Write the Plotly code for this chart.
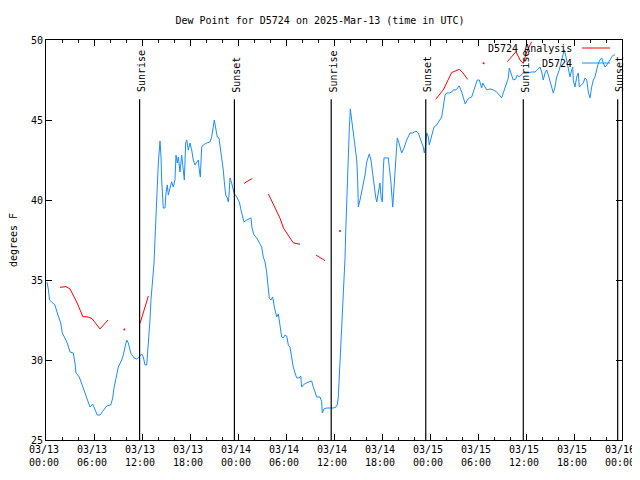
import plotly.graph_objects as go

# ---- data (hours since 2025-03-13 00:00 UTC) ----
obs_hours = [0.12,0.31,0.44,0.75,1.12,1.41,1.84,2.04,2.25,2.66,3.0,3.41,3.62,3.75,4.16,4.66,5.09,5.5,5.84,6.12,
 6.41,6.75,7.16,7.59,8.09,8.34,8.5,8.75,9.04,9.46,9.66,9.88,10.09,10.29,10.59,11.0,11.34,11.66,11.96,12.16,
 12.38,12.59,12.71,12.91,13.0,13.12,13.34,13.5,13.62,13.75,13.91,14.04,14.25,14.38,14.46,14.59,14.66,14.88,15.0,15.16,
 15.29,15.5,15.71,15.91,16.12,16.25,16.41,16.54,16.75,16.96,17.16,17.29,17.46,17.59,17.79,18.0,18.21,18.41,18.62,18.84,
 19.04,19.16,19.29,19.46,19.66,20.09,20.5,20.71,20.91,21.04,21.21,21.41,21.62,21.75,21.96,22.16,22.29,22.46,22.66,22.79,
 22.88,23.0,23.21,23.5,23.84,24.16,24.46,24.75,25.09,25.5,25.62,25.75,26.0,26.34,26.66,26.96,27.16,27.38,27.59,27.71,
 27.91,28.12,28.34,28.54,28.84,29.04,29.25,29.46,29.66,29.88,30.09,30.29,30.5,30.71,30.91,31.12,31.34,31.66,31.84,31.96,
 32.16,32.5,33.0,33.21,33.41,33.62,33.84,34.25,34.46,34.54,34.75,35.09,35.91,36.25,36.41,36.54,36.66,36.84,36.96,37.09,
 37.25,37.38,37.46,37.59,37.66,37.79,37.91,38.04,38.21,38.41,38.62,38.84,38.96,39.04,39.25,39.46,39.66,39.88,40.09,40.41,
 40.62,40.84,41.0,41.21,41.34,41.54,41.75,41.88,42.04,42.16,42.25,42.5,42.79,42.91,43.09,43.34,43.5,43.66,43.75,43.91,
 44.12,44.46,44.75,45.09,45.5,45.84,46.25,46.54,46.75,46.96,47.16,47.29,47.46,47.59,47.79,47.91,48.21,48.5,48.84,49.25,
 49.46,49.66,49.88,50.09,50.41,50.71,50.91,51.25,51.66,51.96,52.16,52.41,52.66,52.91,53.21,53.41,53.62,53.91,54.16,54.34,
 54.46,54.59,54.88,55.09,55.5,55.91,56.34,56.66,56.96,57.16,57.38,57.59,57.79,57.91,58.09,58.25,58.41,58.71,58.91,59.16,
 59.46,59.66,60.0,60.29,60.71,61.12,61.41,61.75,61.96,62.16,62.38,62.59,62.79,63.0,63.21,63.41,63.62,63.84,64.16,64.46,
 64.66,64.79,65.0,65.16,65.29,65.5,65.71,65.84,65.91,66.12,66.34,66.54,66.66,66.96,67.16,67.38,67.59,67.79,68.0,68.21,
 68.41,68.62,68.84,69.04,69.25,69.46,69.66,69.88,70.09,70.29,70.5,70.71,70.91,71.12]
obs_dewpt = [34.88,34.38,33.75,33.63,33.44,32.94,32.31,31.69,31.44,31.06,30.5,30.44,29.81,29.19,28.94,28.25,27.69,27.06,27.25,26.88,
 26.56,26.56,26.88,27.13,27.19,27.63,28.25,28.94,29.56,30.0,30.31,30.81,31.25,31.06,30.44,30.13,30.06,30.19,30.38,30.19,
 29.69,29.69,30.44,31.69,32.5,33.75,35.0,36.06,37.5,39.19,40.44,42.31,43.69,42.69,41.25,40.44,39.5,39.5,40.44,40.94,
 40.31,40.75,41.13,40.81,41.25,42.81,42.31,42.69,41.75,42.81,41.88,41.25,43.56,43.75,43.13,43.56,43.13,42.5,42.19,42.38,
 42.5,41.88,41.44,43.31,43.44,43.56,43.63,43.94,44.56,45.0,44.5,43.94,43.88,43.44,42.5,41.88,41.13,40.31,40.13,39.88,
 40.31,41.38,41.06,40.44,40.19,39.88,39.19,38.63,38.75,38.88,38.88,38.25,37.81,37.63,37.38,37.06,36.44,36.13,35.44,34.81,
 33.88,33.75,33.94,33.31,32.69,32.88,32.19,31.44,31.38,31.56,31.5,30.94,30.81,30.13,29.56,29.19,28.88,28.88,29.0,28.31,
 28.44,28.56,28.63,28.69,28.31,28.0,27.69,27.69,27.38,26.69,26.94,27.0,27.0,27.06,27.19,27.69,28.88,30.19,31.75,33.31,
 34.81,36.38,37.94,39.81,41.88,43.13,44.38,45.69,45.0,44.38,43.56,42.5,41.25,39.56,40.0,40.5,41.06,41.56,42.38,42.88,
 42.5,41.56,41.06,40.19,39.88,40.44,41.06,40.19,39.88,41.88,42.63,42.63,42.63,42.06,41.25,39.56,40.63,41.88,42.69,43.88,
 43.56,42.94,43.25,43.75,44.19,44.19,44.31,44.19,43.88,43.56,43.31,42.94,43.44,44.19,43.94,43.44,43.94,44.56,44.69,45.0,
 45.19,45.81,46.56,46.69,46.69,46.75,46.88,46.88,47.13,46.75,46.44,46.0,46.25,46.38,46.44,46.75,47.19,47.5,47.5,47.19,
 47.0,47.31,47.06,46.88,46.94,46.88,46.75,46.56,46.38,46.69,47.0,47.38,47.63,48.25,47.94,47.63,47.5,47.56,47.81,47.69,
 47.81,47.94,47.94,47.94,48.0,48.0,48.13,48.31,48.0,47.5,47.94,48.13,47.81,47.5,47.06,46.69,47.06,47.69,48.13,48.75,
 49.19,49.38,48.94,48.56,48.13,47.69,48.13,48.31,47.5,47.06,47.69,47.94,47.06,47.19,47.31,47.63,47.5,46.75,46.38,47.06,
 47.5,47.69,48.25,48.56,48.75,48.88,48.56,48.31,48.44,48.56,48.75,48.94,49.06,49.06]

# analysis series: None separates gaps
ana_hours = [1.75,2.5,3.0,3.9,4.6,5.25,5.75,6.75,7.75,None,
             9.8,None,
             11.75,12.8,None,
             24.75,25.8,None,
             27.8,28.4,29.25,29.7,30.3,30.9,31.75,None,
             33.75,34.88,None,
             36.75,None,
             48.7,49.66,50.7,51.66,52.1,52.7,None,
             54.7,None,
             57.66,58.75,59.25,59.66,60.1,60.7]
ana_dewpt = [34.54,34.59,34.44,33.56,32.71,32.69,32.59,31.94,32.5,None,
             31.9,None,
             32.29,34.0,None,
             41.04,41.35,None,
             40.38,39.79,38.86,38.23,37.81,37.33,37.23,None,
             36.56,36.21,None,
             38.06,None,
             46.29,46.88,47.96,48.17,47.96,47.54,None,
             48.54,None,
             48.64,49.27,48.75,48.54,49.27,49.89]
single_pts_h = [9.8, 36.75, 54.7]
single_pts_v = [31.9, 38.06, 48.54]

sun_hours = [11.7, 23.55, 35.65, 47.47, 59.66, 71.46]
sun_labels = ["Sunrise", "Sunset", "Sunrise", "Sunset", "Sunrise", "Sunset"]

tick_hours = [0, 6, 12, 18, 24, 30, 36, 42, 48, 54, 60, 66, 72]
tick_text = ["03/13<br>00:00", "03/13<br>06:00", "03/13<br>12:00", "03/13<br>18:00",
             "03/14<br>00:00", "03/14<br>06:00", "03/14<br>12:00", "03/14<br>18:00",
             "03/15<br>00:00", "03/15<br>06:00", "03/15<br>12:00", "03/15<br>18:00",
             "03/16<br>00:00"]

FONT = "DejaVu Sans Mono"
FS = 10
BLUE = "#1a8cff"
RED = "#ff0000"

# page has an 8px body margin: lay out in page pixels, then offset
OFF = 8
W, H = 640 - OFF, 480 - OFF
L, R, T, B = 46 - OFF, 622 - OFF, 40 - OFF, 440 - OFF
def px(x):  # page pixel -> paper fraction
    return (x - OFF - L) / (R - L)
def py(y):
    return (B - (y - OFF)) / (B - T)

fig = go.Figure()
fig.add_trace(go.Scatter(x=ana_hours, y=ana_dewpt, mode="lines", connectgaps=False,
                         line=dict(color=RED, width=1), name="D5724 Analysis", showlegend=False))
fig.add_trace(go.Scatter(x=single_pts_h, y=single_pts_v, mode="markers",
                         marker=dict(color=RED, size=2), showlegend=False))
fig.add_trace(go.Scatter(x=obs_hours, y=obs_dewpt, mode="lines",
                         line=dict(color=BLUE, width=1), name="D5724", showlegend=False))

line_top = 46.3
for h, lab in zip(sun_hours, sun_labels):
    fig.add_shape(type="line", xref="x", yref="y", x0=h, x1=h, y0=25, y1=line_top,
                  line=dict(color="black", width=1.2))
    fig.add_annotation(x=h, y=46.6, xref="x", yref="y", text=lab, textangle=-90,
                       showarrow=False, xanchor="center", yanchor="bottom", xshift=2,
                       font=dict(family=FONT, size=FS, color="black"))

# legend (gnuplot style: text on left, sample on right)
fig.add_annotation(x=px(574), y=py(48), xref="paper", yref="paper", text="D5724 Analysis", showarrow=False,
                   xanchor="right", yanchor="middle", font=dict(family=FONT, size=FS, color="black"))
fig.add_annotation(x=px(574), y=py(63), xref="paper", yref="paper", text="D5724", showarrow=False,
                   xanchor="right", yanchor="middle", font=dict(family=FONT, size=FS, color="black"))
fig.add_shape(type="line", xref="paper", yref="paper", x0=px(582), x1=px(610), y0=py(48), y1=py(48),
              line=dict(color=RED, width=1))
fig.add_shape(type="line", xref="paper", yref="paper", x0=px(582), x1=px(610), y0=py(63), y1=py(63),
              line=dict(color=BLUE, width=1))

fig.update_layout(
    width=W, height=H,
    margin=dict(l=L, r=W - R, t=T, b=H - B, pad=0, autoexpand=False),
    paper_bgcolor="white", plot_bgcolor="white",
    title=dict(text="Dew Point for D5724 on 2025-Mar-13 (time in UTC)", x=px(320), xanchor="center",
               xref="paper", y=1 - (20 - OFF) / H, yanchor="middle",
               font=dict(family=FONT, size=FS, color="black")),
    font=dict(family=FONT, size=FS, color="black"),
    xaxis=dict(range=[0, 72], tickmode="array", tickvals=tick_hours, ticktext=tick_text,
               ticks="inside", ticklen=6, tickcolor="black", showline=True, linecolor="black",
               linewidth=1, mirror="ticks", showgrid=False, zeroline=False, automargin=False,
               ticklabelshift=-2,
               minor=dict(dtick=2, tick0=0, ticks="inside", ticklen=3, tickcolor="black", showgrid=False)),
    yaxis=dict(range=[25, 50], dtick=5, tick0=25, ticks="inside", ticklen=6, tickcolor="black",
               showline=True, linecolor="black", linewidth=1, mirror="ticks", showgrid=False,
               zeroline=False, automargin=False,
               title=dict(text="degrees F", standoff=14, font=dict(family=FONT, size=FS))),
)

fig.write_html("out.html")
